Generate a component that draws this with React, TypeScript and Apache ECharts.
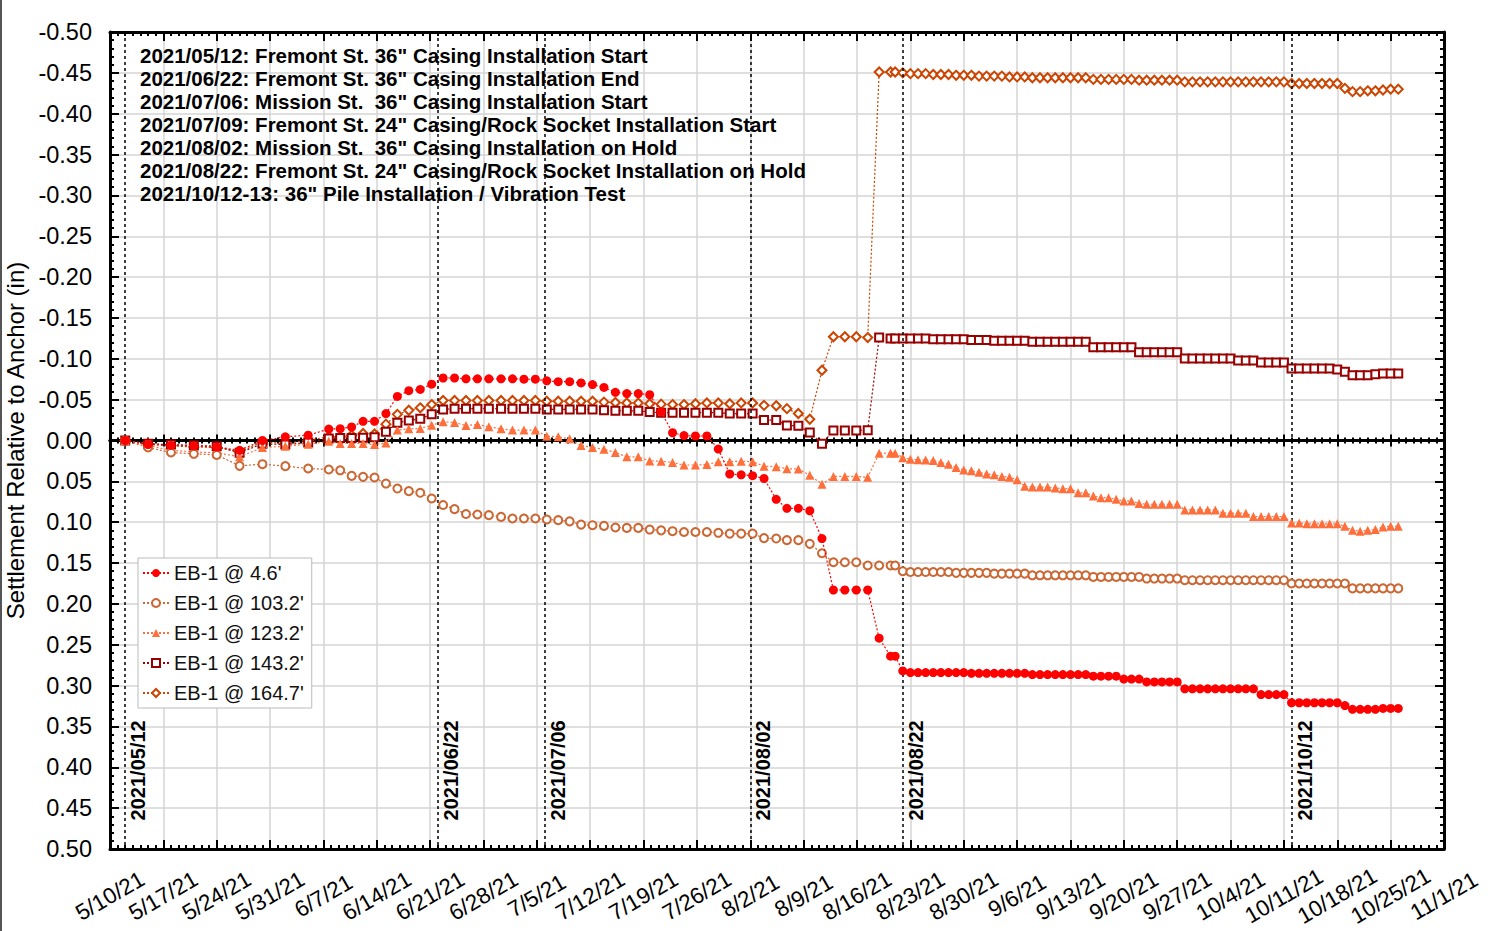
import React, { useEffect, useRef } from 'react';
import * as echarts from 'echarts';

// x values are days since 5/10/21 (day 0); 11/1/21 is day 175
const START_DATE_UTC = Date.UTC(2021, 4, 10);
const X_MIN_DAY = 0;
const X_MAX_DAY = 175;
const X_TICK_DAYS = 7;
const Y_MIN = -0.5;
const Y_MAX = 0.5;
const Y_TICK = 0.05;

const seriesNames = ["EB-1 @ 4.6'", "EB-1 @ 103.2'", "EB-1 @ 123.2'", "EB-1 @ 143.2'", "EB-1 @ 164.7'"];
const seriesColors = ['#ff0000', '#cc6633', '#ff6f3c', '#990000', '#cc4400'];
const seriesSymbols = ['circle', 'emptyCircle', 'triangle', 'emptyRect', 'emptyDiamond'];

// reading times (days since 5/10/21)
const sampleDays = [
  2, 5, 8, 11, 14, 17, 20, 23, 26, 28.7,
  30.2, 31.7, 33.2, 34.7, 36.2, 37.7, 39.2, 40.7, 42.2, 43.7,
  45.2, 46.7, 48.2, 49.7, 51.3, 52.8, 54.3, 55.8, 57.3, 58.8,
  60.3, 61.8, 63.3, 64.8, 66.3, 67.8, 69.3, 70.8, 72.3, 73.8,
  75.3, 76.8, 78.3, 79.8, 81.3, 82.8, 84.3, 85.8, 87.4, 88.8,
  90.3, 91.8, 93.4, 94.9, 96.4, 97.9, 99.4, 100.9, 102.4, 103.0,
  104, 105, 106, 107, 108, 109, 110, 111, 112, 113,
  114, 115, 116, 117, 118, 119, 120, 121, 122, 123,
  124, 125, 126, 127, 128, 129, 130, 131, 132, 133,
  134, 135, 136, 137, 138, 139, 140, 141, 142, 143,
  144, 145, 146, 147, 148, 149, 150, 151, 152, 153,
  154, 155, 156, 157, 158, 159, 160, 161, 162, 163,
  164, 165, 166, 167, 168, 169,
];

const eb1_4_6 = [
  0.000, 0.005, 0.006, 0.0065, 0.008, 0.012, 0.000, -0.0045, -0.0065, -0.014,
  -0.0145, -0.0165, -0.0235, -0.0235, -0.033, -0.054, -0.061, -0.0625, -0.069, -0.0765,
  -0.0765, -0.0755, -0.0755, -0.0755, -0.0755, -0.0755, -0.075, -0.075, -0.073, -0.072,
  -0.072, -0.0705, -0.0685, -0.065, -0.059, -0.0575, -0.0575, -0.056, -0.035, -0.0095,
  -0.006, -0.0055, -0.0055, 0.0105, 0.041, 0.042, 0.043, 0.0465, 0.072, 0.083,
  0.083, 0.086, 0.120, 0.183, 0.183, 0.183, 0.183, 0.242, 0.264, 0.264,
  0.282, 0.284, 0.284, 0.284, 0.284, 0.284, 0.284, 0.284, 0.284, 0.285,
  0.285, 0.285, 0.285, 0.285, 0.285, 0.285, 0.285, 0.2865, 0.2865, 0.2865,
  0.2865, 0.2865, 0.2865, 0.2865, 0.2865, 0.2885, 0.2885, 0.2885, 0.2885, 0.292,
  0.292, 0.292, 0.2955, 0.2955, 0.2955, 0.2955, 0.2955, 0.304, 0.304, 0.304,
  0.304, 0.304, 0.304, 0.304, 0.304, 0.304, 0.304, 0.311, 0.311, 0.311,
  0.311, 0.321, 0.321, 0.321, 0.321, 0.321, 0.321, 0.321, 0.3245, 0.329,
  0.329, 0.329, 0.329, 0.328, 0.328, 0.328,
];

const eb1_103_2 = [
  0.000, 0.0086, 0.0147, 0.0163, 0.0176, 0.031, 0.029, 0.0314, 0.0343, 0.0355,
  0.0365, 0.0433, 0.0445, 0.0453, 0.0527, 0.0588, 0.062, 0.064, 0.071, 0.079,
  0.084, 0.090, 0.0906, 0.0914, 0.0935, 0.0955, 0.0955, 0.0955, 0.0967, 0.0975,
  0.099, 0.103, 0.1037, 0.1045, 0.1065, 0.107, 0.107, 0.109, 0.110, 0.111,
  0.112, 0.112, 0.112, 0.113, 0.114, 0.114, 0.114, 0.1195, 0.120, 0.122,
  0.122, 0.1265, 0.138, 0.149, 0.149, 0.149, 0.153, 0.153, 0.153, 0.153,
  0.160, 0.161, 0.161, 0.161, 0.161, 0.161, 0.161, 0.162, 0.162, 0.162,
  0.162, 0.162, 0.163, 0.163, 0.163, 0.163, 0.163, 0.165, 0.165, 0.165,
  0.165, 0.165, 0.165, 0.165, 0.165, 0.167, 0.167, 0.167, 0.167, 0.167,
  0.167, 0.167, 0.169, 0.169, 0.169, 0.169, 0.169, 0.171, 0.171, 0.171,
  0.171, 0.171, 0.171, 0.171, 0.171, 0.171, 0.171, 0.171, 0.171, 0.171,
  0.171, 0.175, 0.175, 0.175, 0.175, 0.175, 0.175, 0.175, 0.175, 0.181,
  0.181, 0.181, 0.181, 0.181, 0.181, 0.181,
];

const eb1_123_2 = [
  0.000, 0.006, 0.012, 0.014, 0.015, 0.020, 0.0086, 0.007, 0.0045, 0.001,
  0.0037, 0.0037, 0.0037, 0.005, 0.003, -0.0127, -0.0143, -0.0147, -0.0188, -0.0229,
  -0.022, -0.0184, -0.0196, -0.0167, -0.0143, -0.0127, -0.0127, -0.0127, -0.0053, -0.0045,
  -0.002, 0.006, 0.0086, 0.0106, 0.0147, 0.020, 0.020, 0.025, 0.0253, 0.027,
  0.030, 0.030, 0.0294, 0.026, 0.026, 0.0253, 0.026, 0.0314, 0.032, 0.0345,
  0.035, 0.0425, 0.0535, 0.044, 0.044, 0.044, 0.045, 0.0155, 0.0155, 0.0155,
  0.021, 0.023, 0.0235, 0.024, 0.0245, 0.027, 0.029, 0.033, 0.036, 0.037,
  0.039, 0.041, 0.042, 0.044, 0.045, 0.048, 0.056, 0.057, 0.057, 0.057,
  0.058, 0.059, 0.059, 0.064, 0.064, 0.068, 0.070, 0.070, 0.072, 0.074,
  0.074, 0.077, 0.078, 0.078, 0.078, 0.078, 0.078, 0.085, 0.085, 0.085,
  0.085, 0.085, 0.089, 0.089, 0.089, 0.089, 0.093, 0.093, 0.093, 0.093,
  0.093, 0.101, 0.101, 0.102, 0.102, 0.102, 0.102, 0.102, 0.105, 0.110,
  0.111, 0.110, 0.109, 0.106, 0.105, 0.105,
];

const eb1_143_2 = [
  0.000, 0.004, 0.005, 0.006, 0.007, 0.015, 0.004, 0.005, 0.0025, -0.0025,
  -0.003, -0.003, -0.0035, -0.004, -0.0106, -0.0216, -0.0245, -0.0265, -0.032, -0.038,
  -0.039, -0.039, -0.039, -0.039, -0.039, -0.039, -0.039, -0.039, -0.038, -0.038,
  -0.038, -0.038, -0.038, -0.037, -0.0365, -0.0363, -0.0363, -0.035, -0.034, -0.034,
  -0.034, -0.034, -0.034, -0.034, -0.033, -0.033, -0.033, -0.025, -0.025, -0.0185,
  -0.018, -0.0098, 0.004, -0.0122, -0.0122, -0.0122, -0.0125, -0.126, -0.125, -0.125,
  -0.125, -0.125, -0.125, -0.125, -0.124, -0.124, -0.124, -0.124, -0.124, -0.123,
  -0.123, -0.123, -0.122, -0.122, -0.122, -0.122, -0.122, -0.121, -0.121, -0.121,
  -0.121, -0.121, -0.121, -0.121, -0.121, -0.114, -0.114, -0.114, -0.114, -0.114,
  -0.114, -0.108, -0.108, -0.108, -0.108, -0.108, -0.108, -0.1005, -0.1005, -0.1005,
  -0.1005, -0.1005, -0.1005, -0.1005, -0.098, -0.098, -0.098, -0.0955, -0.0955, -0.0955,
  -0.0955, -0.088, -0.088, -0.088, -0.088, -0.088, -0.088, -0.087, -0.084, -0.080,
  -0.080, -0.080, -0.081, -0.082, -0.082, -0.082,
];

const eb1_164_7 = [
  0.000, 0.004, 0.0065, 0.008, 0.0086, 0.014, 0.0016, 0.0037, -0.0004, -0.0045,
  -0.0045, -0.0065, -0.0086, -0.008, -0.020, -0.032, -0.037, -0.040, -0.044, -0.049,
  -0.049, -0.049, -0.049, -0.049, -0.049, -0.049, -0.049, -0.049, -0.048, -0.048,
  -0.048, -0.048, -0.048, -0.047, -0.0465, -0.046, -0.046, -0.045, -0.0445, -0.044,
  -0.044, -0.045, -0.046, -0.046, -0.045, -0.046, -0.046, -0.043, -0.0425, -0.039,
  -0.033, -0.026, -0.086, -0.127, -0.127, -0.127, -0.126, -0.451, -0.451, -0.451,
  -0.450, -0.449, -0.449, -0.449, -0.448, -0.448, -0.448, -0.447, -0.447, -0.447,
  -0.446, -0.446, -0.446, -0.446, -0.445, -0.445, -0.445, -0.444, -0.444, -0.444,
  -0.444, -0.444, -0.444, -0.444, -0.444, -0.442, -0.442, -0.442, -0.442, -0.442,
  -0.442, -0.441, -0.441, -0.441, -0.441, -0.441, -0.441, -0.439, -0.439, -0.439,
  -0.439, -0.439, -0.439, -0.439, -0.439, -0.439, -0.439, -0.439, -0.439, -0.439,
  -0.439, -0.437, -0.437, -0.437, -0.437, -0.437, -0.437, -0.437, -0.431, -0.427,
  -0.427, -0.428, -0.428, -0.429, -0.430, -0.430,
];

const seriesValues = [eb1_4_6, eb1_103_2, eb1_123_2, eb1_143_2, eb1_164_7];

const eventDays = [2, 43, 57, 84, 104, 155];
const eventLabels = ['2021/05/12', '2021/06/22', '2021/07/06', '2021/08/02', '2021/08/22', '2021/10/12'];

const noteLines = [
  '2021/05/12: Fremont St. 36" Casing Installation Start',
  '2021/06/22: Fremont St. 36" Casing Installation End',
  '2021/07/06: Mission St.  36" Casing Installation Start',
  '2021/07/09: Fremont St. 24" Casing/Rock Socket Installation Start',
  '2021/08/02: Mission St.  36" Casing Installation on Hold',
  '2021/08/22: Fremont St. 24" Casing/Rock Socket Installation on Hold',
  '2021/10/12-13: 36" Pile Installation / Vibration Test',
];

const yAxisTitle = 'Settlement Relative to Anchor (in)';

const FONT = "'Liberation Sans', Arial, Helvetica, sans-serif";

function dayLabel(d: number): string {
  const dt = new Date(START_DATE_UTC + d * 86400000);
  return `${dt.getUTCMonth() + 1}/${dt.getUTCDate()}/${String(dt.getUTCFullYear()).slice(2)}`;
}

function buildOption(): any {
  const xBase = {
    type: 'value',
    min: X_MIN_DAY,
    max: X_MAX_DAY,
    interval: X_TICK_DAYS,
    gridIndex: 0,
  };
  const yBase = {
    type: 'value',
    inverse: true,
    min: Y_MIN,
    max: Y_MAX,
    interval: Y_TICK,
  };
  const series = seriesNames.map((name, i) => {
    const empty = seriesSymbols[i].startsWith('empty');
    const s: any = {
      name,
      type: 'line',
      data: sampleDays.map((d, j) => [d, seriesValues[i][j]]),
      symbol: seriesSymbols[i],
      symbolSize: seriesSymbols[i] === 'emptyRect' ? 8 : seriesSymbols[i] === 'emptyCircle' ? 8 : 9,
      showAllSymbol: true,
      lineStyle: { color: seriesColors[i], width: 1.2, type: [2, 2] },
      itemStyle: empty
        ? { color: seriesColors[i], borderColor: seriesColors[i], borderWidth: 2 }
        : { color: seriesColors[i] },
      xAxisIndex: 0,
      yAxisIndex: 0,
      z: 3 + (4 - i),
    };
    if (i === 0) {
      s.markLine = {
        silent: true,
        symbol: ['none', 'none'],
        label: { show: false },
        lineStyle: { color: '#000', width: 1.5, type: [3, 3] },
        data: eventDays.map((d) => ({ xAxis: d })),
      };
    }
    return s;
  });

  return {
    animation: false,
    backgroundColor: '#ffffff',
    textStyle: { fontFamily: FONT },
    grid: { left: 110, right: 50, top: 32, bottom: 82, containLabel: false, outerBoundsMode: 'none' },
    legend: {
      left: 138,
      top: 558,
      orient: 'vertical',
      data: seriesNames,
      itemGap: 10,
      itemWidth: 26,
      itemHeight: 10,
      padding: [5, 8, 5, 4],
      backgroundColor: '#ffffff',
      borderColor: '#bbbbbb',
      borderWidth: 1,
      borderRadius: 0,
      textStyle: { fontSize: 20, color: '#111', fontFamily: FONT },
    },
    xAxis: [
      {
        ...xBase,
        position: 'bottom',
        axisLine: { show: true, onZero: false, lineStyle: { color: '#000', width: 3 } },
        axisTick: { show: true, inside: true, length: 9, lineStyle: { color: '#000', width: 2 } },
        minorTick: { show: true, splitNumber: 7, length: 4, lineStyle: { color: '#000', width: 2 } },
        splitLine: { show: true, lineStyle: { color: '#d4d4d4', width: 1.5 } },
        axisLabel: {
          show: true,
          rotate: 30,
          align: 'center',
          verticalAlign: 'middle',
          margin: 47,
          fontSize: 22.5,
          color: '#000',
          fontFamily: FONT,
          formatter: (v: number) => dayLabel(v),
          showMinLabel: true,
          showMaxLabel: true,
          hideOverlap: false,
        },
      },
      {
        ...xBase,
        position: 'top',
        axisLine: { show: true, onZero: false, lineStyle: { color: '#000', width: 3 } },
        axisTick: { show: true, inside: true, length: 9, lineStyle: { color: '#000', width: 2 } },
        minorTick: { show: true, splitNumber: 7, length: 4, lineStyle: { color: '#000', width: 2 } },
        splitLine: { show: false },
        axisLabel: { show: false },
      },
      {
        ...xBase,
        position: 'bottom',
        axisLine: { show: true, onZero: true, onZeroAxisIndex: 0, lineStyle: { color: '#000', width: 3 } },
        axisTick: { show: true, inside: true, length: 6, lineStyle: { color: '#000', width: 2 } },
        minorTick: { show: true, splitNumber: 7, length: 3, lineStyle: { color: '#000', width: 2 } },
        splitLine: { show: false },
        axisLabel: { show: false },
      },
      {
        ...xBase,
        position: 'bottom',
        axisLine: { show: true, onZero: true, onZeroAxisIndex: 0, lineStyle: { color: '#000', width: 3 } },
        axisTick: { show: true, inside: false, length: 6, lineStyle: { color: '#000', width: 2 } },
        minorTick: { show: true, splitNumber: 7, length: 3, lineStyle: { color: '#000', width: 2 } },
        splitLine: { show: false },
        axisLabel: { show: false },
      },
    ],
    yAxis: [
      {
        ...yBase,
        position: 'left',
        name: yAxisTitle,
        nameLocation: 'middle',
        nameGap: 81,
        nameRotate: 90,
        nameTextStyle: { fontSize: 24, color: '#000', fontFamily: FONT },
        axisLine: { show: true, onZero: false, lineStyle: { color: '#000', width: 3 } },
        axisTick: { show: true, inside: true, length: 9, lineStyle: { color: '#000', width: 2 } },
        minorTick: { show: true, splitNumber: 5, length: 4, lineStyle: { color: '#000', width: 2 } },
        splitLine: { show: true, lineStyle: { color: '#d4d4d4', width: 1.5 } },
        axisLabel: {
          show: true,
          margin: 18,
          fontSize: 23.5,
          color: '#000',
          fontFamily: FONT,
          formatter: (v: number) => v.toFixed(2),
        },
      },
      {
        ...yBase,
        position: 'right',
        axisLine: { show: true, onZero: false, lineStyle: { color: '#000', width: 3 } },
        axisTick: { show: true, inside: true, length: 9, lineStyle: { color: '#000', width: 2 } },
        minorTick: { show: true, splitNumber: 5, length: 4, lineStyle: { color: '#000', width: 2 } },
        splitLine: { show: false },
        axisLabel: { show: false },
      },
    ],
    series,
  };
}

export default function App() {
  const ref = useRef<HTMLDivElement>(null);
  useEffect(() => {
    if (!ref.current) return;
    const chart = echarts.init(ref.current, null, { renderer: 'svg' });
    chart.setOption(buildOption());

    const graphics: any[] = [];
    noteLines.forEach((t, i) => {
      graphics.push({
        type: 'text',
        x: 140,
        y: 55 + i * 23,
        z: 10,
        style: {
          text: t,
          fontFamily: FONT,
          fontSize: 20.5,
          fontWeight: 'bold',
          fill: '#000',
          textAlign: 'left',
          textVerticalAlign: 'middle',
        },
      });
    });
    const labelY = chart.convertToPixel({ yAxisIndex: 0 }, 0.465) as number;
    eventDays.forEach((d, i) => {
      const px = chart.convertToPixel({ xAxisIndex: 0 }, d) as number;
      graphics.push({
        type: 'text',
        x: px + 13,
        y: labelY,
        rotation: Math.PI / 2,
        z: 10,
        style: {
          text: eventLabels[i],
          fontFamily: FONT,
          fontSize: 20,
          fontWeight: 'bold',
          fill: '#000',
          textAlign: 'left',
          textVerticalAlign: 'middle',
        },
      });
    });
    chart.setOption({ graphic: graphics });

    return () => chart.dispose();
  }, []);

  return (
    <div
      style={{
        position: 'fixed',
        left: 0,
        top: 0,
        width: 1494,
        height: 931,
        background: '#fff',
        overflow: 'hidden',
      }}
    >
      <div ref={ref} style={{ position: 'absolute', left: 0, top: 0, width: 1494, height: 931 }} />
      <div style={{ position: 'absolute', left: 0, top: 0, width: 2, height: 931, background: '#555' }} />
    </div>
  );
}
